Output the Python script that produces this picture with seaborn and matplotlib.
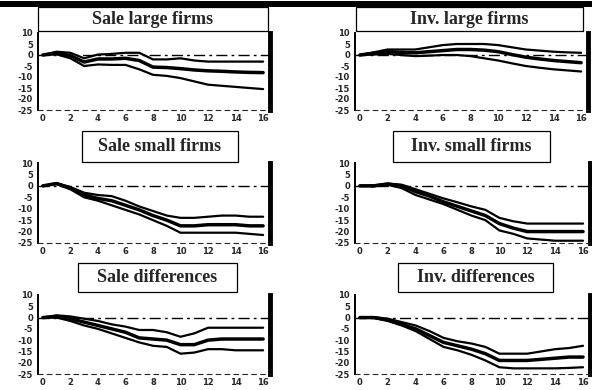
import seaborn as sns
import matplotlib.pyplot as plt
import pandas as pd
from matplotlib.patches import Rectangle
from matplotlib.ticker import MultipleLocator

horizon = list(range(17))
x_ticks = [0, 2, 4, 6, 8, 10, 12, 14, 16]
y_ticks = [10, 5, 0, -5, -10, -15, -20, -25]

titles = ["Sale large firms", "Inv. large firms",
          "Sale small firms", "Inv. small firms",
          "Sale differences", "Inv. differences"]

sale_large_mid = [0, 0.9, -0.3, -3.2, -1.8, -1.8, -1.5, -2.5, -5.5, -5.7, -6.2, -6.8, -7.2, -7.4, -7.7, -7.9, -8.0]
sale_large_up = [0, 1.5, 1.0, -1.5, 0.2, 0.5, 1.0, 1.0, -2.0, -2.0, -1.5, -2.5, -3.0, -3.0, -3.0, -3.0, -3.0]
sale_large_lo = [0, 0.3, -1.5, -5.0, -4.3, -4.5, -4.5, -6.5, -9.0, -9.5, -10.5, -12.0, -13.5, -14.0, -14.5, -15.0, -15.5]

inv_large_mid = [0, 0.8, 1.5, 1.2, 1.0, 1.5, 2.0, 2.5, 2.5, 2.2, 1.5, 0.2, -1.0, -1.8, -2.5, -3.0, -3.5]
inv_large_up = [0, 1.2, 2.5, 2.5, 2.5, 3.5, 4.5, 5.0, 5.0, 5.0, 4.5, 3.5, 2.5, 2.0, 1.5, 1.2, 1.0]
inv_large_lo = [0, 0.2, 0.5, 0, -0.5, -0.3, 0, 0, -0.5, -1.5, -2.5, -3.8, -5.0, -5.8, -6.5, -7.0, -7.5]

sale_small_mid = [0, 1.0, -1.0, -4.0, -5.5, -6.5, -8.5, -10.5, -13.0, -15.0, -17.5, -17.5, -17.0, -17.0, -17.0, -17.5, -17.5]
sale_small_up = [0, 1.2, -0.5, -3.0, -4.0, -4.5, -6.5, -9.0, -11.0, -13.0, -14.0, -14.0, -13.5, -13.0, -13.0, -13.5, -13.5]
sale_small_lo = [0, 0.8, -1.5, -5.0, -6.5, -8.5, -10.5, -12.5, -15.0, -17.5, -20.5, -20.5, -20.5, -20.5, -20.5, -21.0, -21.5]

inv_small_mid = [0, 0, 0.8, 0, -2.5, -4.5, -7.0, -9.0, -11.0, -13.0, -16.5, -18.5, -20.0, -20.0, -20.0, -20.0, -20.0]
inv_small_up = [0, 0.2, 1.0, 0.5, -1.5, -3.5, -5.5, -7.2, -9.0, -10.5, -14.0, -15.5, -16.5, -16.5, -16.5, -16.5, -16.5]
inv_small_lo = [0, -0.2, 0.5, -1.0, -4.0, -6.0, -8.0, -10.5, -13.0, -15.0, -19.5, -21.0, -23.0, -23.5, -24.0, -24.0, -24.0]

sale_diff_mid = [0, 0.5, -0.5, -2.0, -3.5, -5.0, -6.5, -9.0, -9.5, -10.0, -12.0, -12.0, -10.0, -9.5, -9.5, -9.5, -9.5]
sale_diff_up = [0, 1.0, 0.5, -0.5, -1.5, -3.0, -4.0, -5.5, -5.5, -6.5, -8.5, -7.0, -4.5, -4.5, -4.5, -4.5, -4.5]
sale_diff_lo = [0, 0, -1.5, -3.5, -5.0, -7.0, -9.0, -11.0, -12.5, -13.0, -16.0, -15.5, -14.0, -14.0, -14.5, -14.5, -14.5]

inv_diff_mid = [0, 0, -1.0, -3.0, -5.0, -8.0, -11.0, -12.5, -14.0, -16.0, -19.0, -19.0, -19.0, -18.5, -18.0, -17.5, -17.5]
inv_diff_up = [0, 0.2, -0.5, -2.0, -3.5, -6.0, -9.0, -10.5, -11.5, -13.0, -16.0, -16.0, -16.0, -15.0, -14.0, -13.5, -12.5]
inv_diff_lo = [0, -0.2, -1.5, -3.5, -6.0, -9.5, -13.0, -14.5, -16.5, -19.0, -22.0, -22.5, -22.5, -22.5, -22.5, -22.3, -22.0]

panels = [
    (sale_large_lo, sale_large_mid, sale_large_up),
    (inv_large_lo, inv_large_mid, inv_large_up),
    (sale_small_lo, sale_small_mid, sale_small_up),
    (inv_small_lo, inv_small_mid, inv_small_up),
    (sale_diff_lo, sale_diff_mid, sale_diff_up),
    (inv_diff_lo, inv_diff_mid, inv_diff_up),
]

# pixel boxes (x0, y0, x1, y1), measured from the top-left of the picture
axes_px = [(38, 33, 270, 110), (355, 33, 588, 110),
           (38, 163, 270, 243), (355, 163, 590, 243),
           (38, 295, 270, 374), (355, 295, 590, 374)]
title_px = [(38, 7, 268, 31), (356, 7, 583, 31),
            (82, 131, 238, 162), (393, 131, 550, 162),
            (78, 263, 237, 292), (398, 263, 553, 292)]

W, H = 592, 390


def frac(box):
    x0, y0, x1, y1 = box
    return [x0 / W, 1 - y1 / H, (x1 - x0) / W, (y1 - y0) / H]


def plot_irf(ax, lo, mid, up):
    df = pd.DataFrame({"h": horizon * 3,
                       "val": lo + mid + up,
                       "band": ["lo"] * 17 + ["mid"] * 17 + ["up"] * 17})
    sns.lineplot(data=df, x="h", y="val", units="band", estimator=None,
                 size="band", sizes={"lo": 1.6, "mid": 2.5, "up": 1.6},
                 color="black", legend=False, ax=ax)
    ax.axhline(0, color="black", lw=1.0, ls=(0, (8, 3, 2, 3)))
    ax.set_xlim(-0.35, 16.5)
    ax.set_ylim(-25, 10)
    ax.set_xticks(x_ticks)
    ax.set_yticks(y_ticks)
    ax.set_xticklabels([str(t) for t in x_ticks])
    ax.set_yticklabels([str(t) for t in y_ticks])
    ax.yaxis.set_minor_locator(MultipleLocator(1))
    ax.set_xlabel("")
    ax.set_ylabel("")
    ax.tick_params(axis="both", labelsize=6, width=1.0, length=3,
                   direction="inout", pad=2)
    ax.tick_params(axis="x", pad=1.2)
    ax.tick_params(axis="y", which="minor", length=1.5, width=0.6,
                   right=True, direction="in")
    for lab in ax.get_xticklabels() + ax.get_yticklabels():
        lab.set_fontweight("bold")
    ax.spines["top"].set_visible(False)
    ax.spines["left"].set_linewidth(1.4)
    ax.spines["left"].set_color("black")
    ax.spines["right"].set_linewidth(3.5)
    ax.spines["right"].set_color("black")
    ax.spines["bottom"].set_linewidth(0.8)
    ax.spines["bottom"].set_linestyle((0, (4, 4)))
    ax.grid(False)


sns.set_style("white")
fig = plt.figure(figsize=(W / 100, H / 100), dpi=100)

# heavy black rule at the top of the page
fig.add_artist(Rectangle((0, 1 - 7 / H), 1, 6 / H, transform=fig.transFigure,
                         facecolor="black", edgecolor="none"))

for i in range(6):
    ax = fig.add_axes(frac(axes_px[i]))
    lo, mid, up = panels[i]
    plot_irf(ax, lo, mid, up)

    x0, y0, x1, y1 = title_px[i]
    fig.add_artist(Rectangle((x0 / W, 1 - y1 / H), (x1 - x0) / W, (y1 - y0) / H,
                             transform=fig.transFigure, facecolor="white",
                             edgecolor="black", lw=0.9))
    fig.text((x0 + x1) / 2 / W, 1 - (y0 + y1) / 2 / H, titles[i],
             ha="center", va="center", fontsize=13, fontweight="bold",
             family="Liberation Serif")

fig.savefig("out.png", dpi=100)
